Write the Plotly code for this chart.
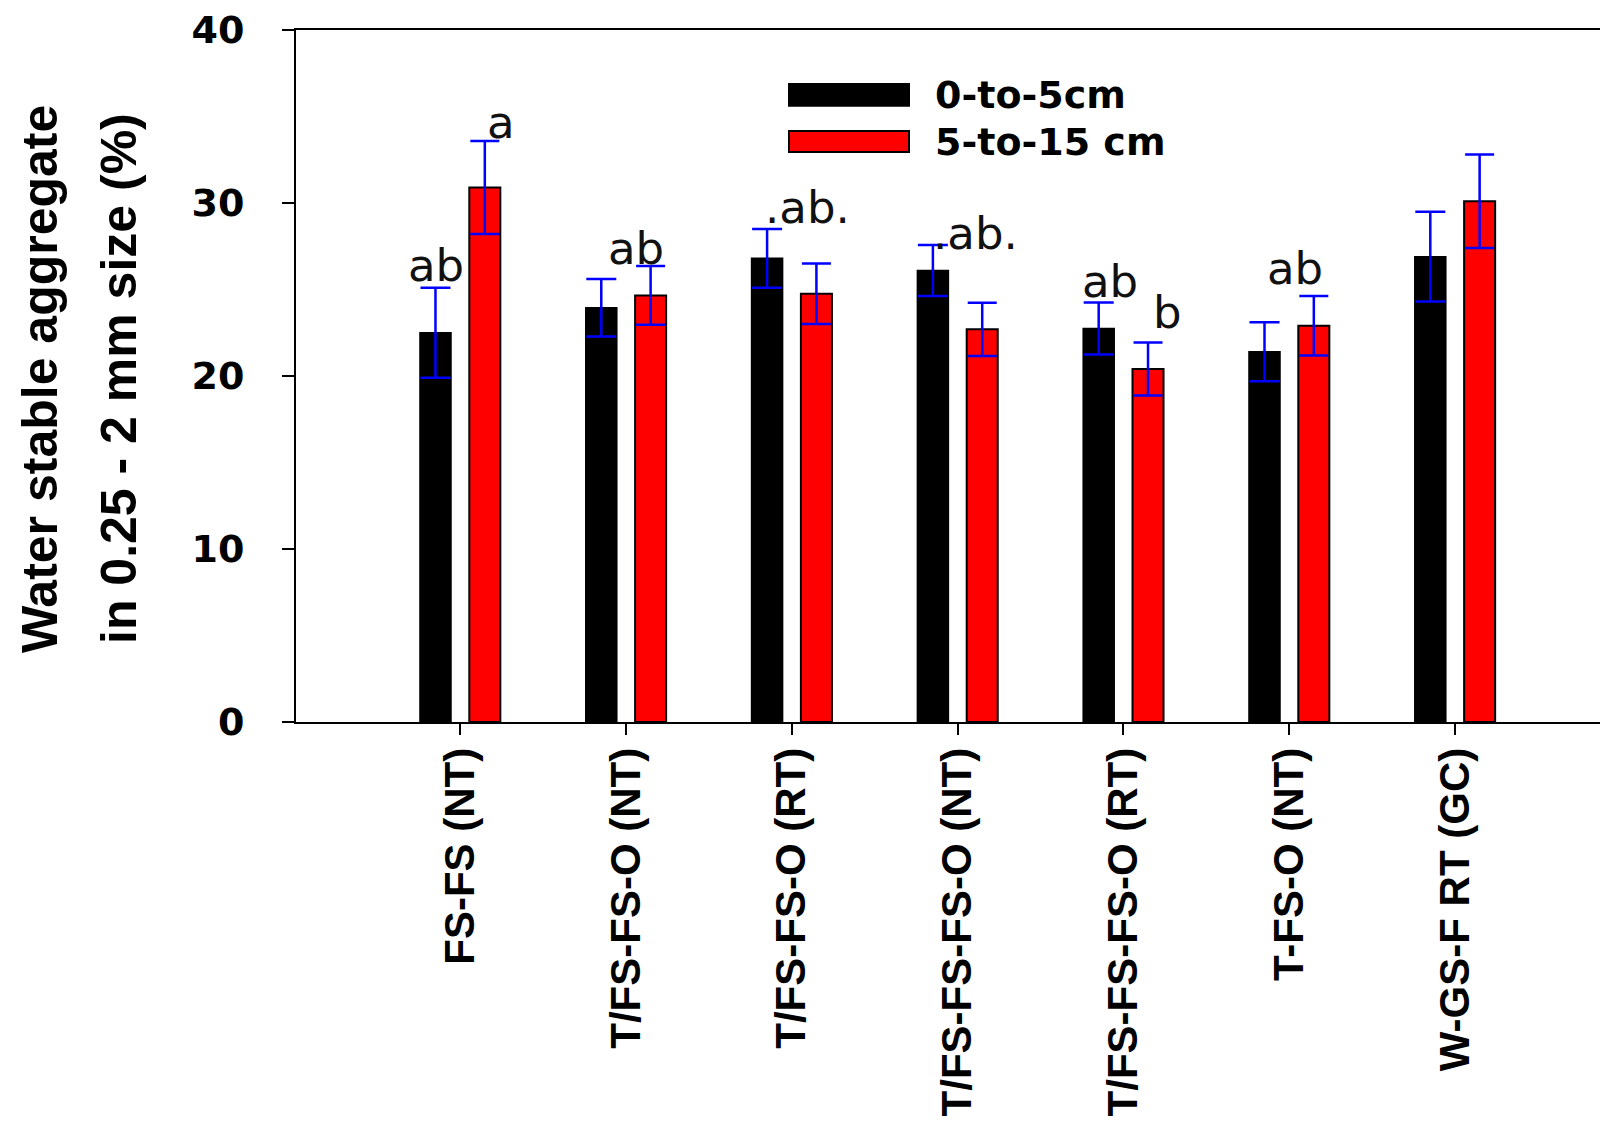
import plotly.graph_objects as go

categories = ["FS-FS (NT)", "T/FS-FS-O (NT)", "T/FS-FS-O (RT)", "T/FS-FS-FS-O (NT)",
              "T/FS-FS-FS-O (RT)", "T-FS-O (NT)", "W-GS-F RT (GC)"]
depth_0_5 = [22.5, 23.95, 26.8, 26.1, 22.75, 21.4, 26.9]
err_0_5 = [2.6, 1.66, 1.7, 1.47, 1.5, 1.7, 2.6]
depth_5_15 = [30.9, 24.66, 24.75, 22.7, 20.4, 22.9, 30.1]
err_5_15 = [2.69, 1.7, 1.75, 1.54, 1.53, 1.72, 2.7]
series_names = ["0-to-5cm", "5-to-15 cm"]
y_ticks = [0, 10, 20, 30, 40]

# significance letters: (category, text, baseline value)
letters = [
    ("FS-FS (NT)", "ab", 25.38),
    ("FS-FS (NT)", "a", 33.64),
    ("T/FS-FS-O (NT)", "ab", 26.36),
    ("T/FS-FS-O (RT)", ".ab.", 28.73),
    ("T/FS-FS-FS-O (NT)", ".ab.", 27.23),
    ("T/FS-FS-FS-O (RT)", "ab", 24.45),
    ("T/FS-FS-FS-O (RT)", "b", 22.66),
    ("T-FS-O (NT)", "ab", 25.2),
]
letter_xshift = [-24, 41, 10, 16, 18, -13, 44, 6]

OFF = 8  # default page margin of the html body
W, H = 1608 - OFF, 1137 - OFF
L, R, T = 296 - OFF, 0, 30 - OFF
B = H - (722 - OFF)
PW, PH = W - L - R, H - T - B


def px(x):
    return (x - OFF - L) / PW


def py(y):
    return (H - B - (y - OFF)) / PH


fig = go.Figure()
fig.add_trace(go.Bar(
    x=categories, y=depth_0_5, name=series_names[0],
    marker=dict(color="black", line=dict(color="black", width=1.5)),
    error_y=dict(type="data", array=err_0_5, visible=True, color="#0000FF",
                 thickness=2.5, width=15),
))
fig.add_trace(go.Bar(
    x=categories, y=depth_5_15, name=series_names[1],
    marker=dict(color="#FF0000", line=dict(color="black", width=2)),
    error_y=dict(type="data", array=err_5_15, visible=True, color="#0000FF",
                 thickness=2.5, width=14.5),
))

annotations = []
for (cat, txt, yv), xs in zip(letters, letter_xshift):
    annotations.append(dict(
        x=cat, y=yv, xref="x", yref="y", text=txt, showarrow=False,
        xanchor="center", yanchor="bottom", xshift=xs, yshift=-11,
        font=dict(family="DejaVu Sans", size=45, color="#111111"),
    ))

# y-axis title (two lines)
title_lines = ["Water stable aggregate", "in 0.25 - 2 mm size (%)"]
for xpix, line in zip([40, 119], title_lines):
    annotations.append(dict(
        x=px(xpix), y=py(379), xref="paper", yref="paper", text=line,
        showarrow=False, textangle=-90, xanchor="center", yanchor="middle",
        font=dict(family="Liberation Sans, Arial", size=50, color="black", weight="bold"),
    ))

# legend
shapes = []
colors = ["black", "#FF0000"]
for i, (nm, col) in enumerate(zip(series_names, colors)):
    y0, y1 = [(84, 105.7), (131, 152)][i]
    shapes.append(dict(type="rect", xref="paper", yref="paper",
                       x0=px(789), x1=px(909), y0=py(y1), y1=py(y0),
                       fillcolor=col, line=dict(color="black", width=2)))
    annotations.append(dict(
        x=px(933), y=py((y0 + y1) / 2), xref="paper", yref="paper",
        text=nm, showarrow=False, xanchor="left", yanchor="middle",
        font=dict(family="DejaVu Sans", size=38, color="black", weight="bold"),
    ))

fig.update_layout(
    width=W, height=H,
    margin=dict(l=L, r=R, t=T, b=B, pad=0),
    paper_bgcolor="white", plot_bgcolor="white",
    barmode="group", bargap=0.405, bargroupgap=0.371,
    showlegend=False,
    annotations=annotations, shapes=shapes,
    xaxis=dict(
        type="category", range=[-0.99, 6.923], automargin=False,
        showline=True, linecolor="black", linewidth=2, mirror=True,
        ticks="outside", ticklen=11, tickwidth=2, tickcolor="black",
        tickangle=-90, showgrid=False, zeroline=False,
        tickfont=dict(family="Liberation Sans, Arial", size=42, color="black", weight="bold"),
        ticklabelstandoff=-4, ticklabeloverflow="allow",
    ),
    yaxis=dict(
        range=[0, 40], tickvals=y_ticks, automargin=False,
        showline=True, linecolor="black", linewidth=2, mirror=False,
        ticks="outside", ticklen=12, tickwidth=2, tickcolor="black",
        showgrid=False, zeroline=False,
        tickfont=dict(family="DejaVu Sans", size=38, color="black", weight="bold"),
        ticklabelstandoff=30, ticklabeloverflow="allow",
    ),
)

fig.write_html("out.html")
